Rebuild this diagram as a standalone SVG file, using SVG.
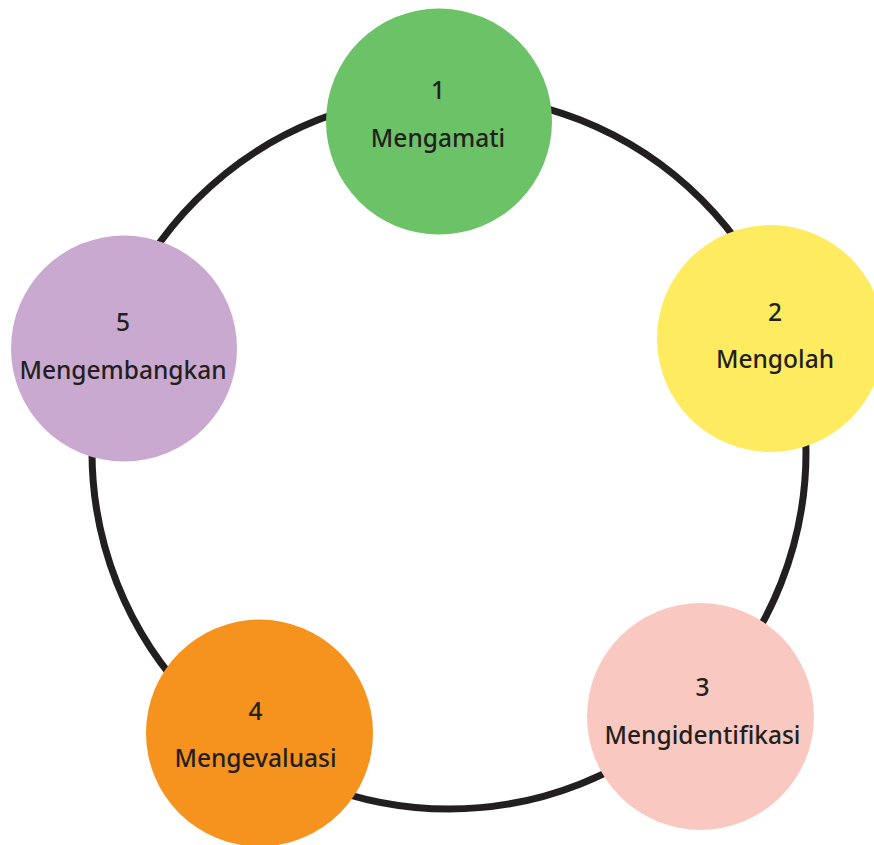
<svg xmlns="http://www.w3.org/2000/svg" width="874" height="845" viewBox="0 0 874 845">
<style>
.node circle{stroke:none}
.t{font-family:"Noto Sans","Open Sans",sans-serif;font-size:24.5px;font-weight:500;fill:#231F20;text-anchor:middle}
.ring{fill:none;stroke:#231F20;stroke-width:7}
</style>
<rect width="874" height="845" fill="#ffffff"/>
<g id="connectors">
<circle class="ring" cx="449" cy="452" r="357"/>
</g>
<g id="node1" class="node">
<circle cx="439" cy="121.5" r="113" fill="#6CC267"/>
<text class="t" x="438" y="99">1</text>
<text class="t" x="438" y="147">Mengamati</text>
</g>
<g id="node2" class="node">
<circle cx="770.5" cy="338.5" r="113.5" fill="#FFEB60"/>
<text class="t" x="775" y="320.5">2</text>
<text class="t" x="775" y="368">Mengolah</text>
</g>
<g id="node3" class="node">
<circle cx="700.5" cy="716.5" r="113.5" fill="#F9C9C1"/>
<text class="t" x="702.5" y="695.5">3</text>
<text class="t" x="702.5" y="744">Mengidentifikasi</text>
</g>
<g id="node4" class="node">
<circle cx="259.5" cy="733" r="113.5" fill="#F6921E"/>
<text class="t" x="255.5" y="720">4</text>
<text class="t" x="255.5" y="767">Mengevaluasi</text>
</g>
<g id="node5" class="node">
<circle cx="124" cy="348.5" r="113" fill="#CAA9D0"/>
<text class="t" x="123" y="330.5">5</text>
<text class="t" x="123" y="379">Mengembangkan</text>
</g>
</svg>
